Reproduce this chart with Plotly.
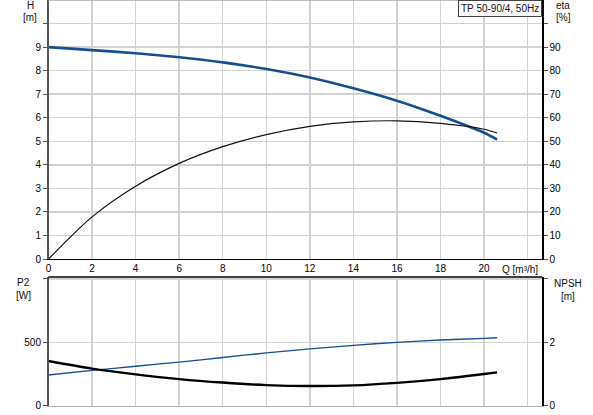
import plotly.graph_objects as go

# ---- data ----
q_h = [0, 2, 4, 6, 8, 10, 12, 14, 16, 18, 19, 20, 20.6]
head = [9.0, 8.87, 8.74, 8.57, 8.35, 8.07, 7.71, 7.25, 6.72, 6.08, 5.73, 5.36, 5.07]

q_eta = [0, 1, 2, 4, 6, 8, 10, 12, 14, 16, 18, 20, 20.6]
eta = [0, 9.3, 17.9, 30.9, 40.6, 47.7, 52.8, 56.3, 58.2, 58.7, 57.6, 55.1, 53.5]

q_low = [0, 2, 4, 6, 8, 10, 12, 14, 16, 18, 20, 20.6]
p2 = [242, 279, 311, 344, 380, 416, 448, 476, 500, 518, 531, 536]
npsh = [1.41, 1.17, 0.99, 0.84, 0.73, 0.65, 0.62, 0.64, 0.72, 0.84, 1.0, 1.05]

x_ticks = list(range(0, 23, 2))
x_ticklabels = [str(v) for v in range(0, 21, 2)] + [""]
h_ticks = list(range(0, 11))
h_ticklabels = [str(v) for v in range(0, 10)] + [""]
eta_ticks = list(range(0, 101, 10))
eta_ticklabels = [str(v) for v in range(0, 91, 10)] + [""]
p2_ticks = [0, 500, 1000]
p2_ticklabels = ["0", "500", ""]
npsh_ticks = [0, 2, 4]
npsh_ticklabels = ["0", "2", ""]

W, H = 593, 415
def px(x):
    return x / W
def py(y):
    return 1 - y / H

BLUE = "#154f8e"
GRID = "#d2d2d2"
FONT = "Liberation Sans, Arial, sans-serif"

fig = go.Figure()
fig.add_trace(go.Scatter(x=q_h, y=head, mode="lines", line=dict(color=BLUE, width=2.6, shape="spline", smoothing=0.8),
                         xaxis="x", yaxis="y", showlegend=False, hoverinfo="skip"))
fig.add_trace(go.Scatter(x=q_eta, y=eta, mode="lines", line=dict(color="#111111", width=1.2, shape="spline", smoothing=0.8),
                         xaxis="x", yaxis="y2", showlegend=False, hoverinfo="skip"))
fig.add_trace(go.Scatter(x=q_low, y=p2, mode="lines", line=dict(color=BLUE, width=1.3, shape="spline", smoothing=0.8),
                         xaxis="x2", yaxis="y3", showlegend=False, hoverinfo="skip"))
fig.add_trace(go.Scatter(x=q_low, y=npsh, mode="lines", line=dict(color="#000000", width=2.4, shape="spline", smoothing=0.8),
                         xaxis="x2", yaxis="y4", showlegend=False, hoverinfo="skip"))

xdom = [px(48.5), px(542)]
top_dom = [py(259), py(0)]
bot_dom = [py(405.7), py(277)]

tickfont = dict(family=FONT, size=10, color="#000000")
common_x = dict(range=[0, 22.66], domain=xdom, tickvals=x_ticks, showgrid=True, gridcolor=GRID, gridwidth=1.4,
                zeroline=False, fixedrange=True, automargin=False)

fig.update_layout(
    width=W, height=H, margin=dict(l=0, r=0, t=0, b=0, autoexpand=False),
    paper_bgcolor="white", plot_bgcolor="white",
    font=dict(family=FONT, size=10, color="#000000"),
    xaxis=dict(**common_x, anchor="y", ticktext=x_ticklabels, showline=True, linecolor="#000000", linewidth=1.3,
               ticks="", tickfont=tickfont),
    xaxis2=dict(**common_x, anchor="y3", showticklabels=False, showline=True, linecolor="#b0b0b0", linewidth=1.5,
                ticks=""),
    yaxis=dict(range=[0, 11], domain=top_dom, anchor="x", tickvals=h_ticks, ticktext=h_ticklabels,
               showgrid=True, gridcolor=GRID, gridwidth=1.4, zeroline=False, showline=True, linecolor="#555555",
               linewidth=1.5, ticks="outside", ticklen=4, tickcolor="#555555", tickfont=tickfont, fixedrange=True,
               automargin=False),
    yaxis2=dict(range=[0, 110], overlaying="y", side="right", anchor="x", tickvals=eta_ticks, ticktext=eta_ticklabels,
                showgrid=False, zeroline=False, showline=True, linecolor="#000000", linewidth=1.5,
                ticks="outside", ticklen=4, tickcolor="#555555", tickfont=tickfont, fixedrange=True,
                automargin=False),
    yaxis3=dict(range=[0, 1015], domain=bot_dom, anchor="x2", tickvals=p2_ticks, ticktext=p2_ticklabels,
                showgrid=True, gridcolor=GRID, gridwidth=1.4, zeroline=False, showline=True, linecolor="#555555",
                linewidth=1.5, ticks="outside", ticklen=4, tickcolor="#555555", tickfont=tickfont, fixedrange=True,
                automargin=False),
    yaxis4=dict(range=[0, 4.06], overlaying="y3", side="right", anchor="x2", tickvals=npsh_ticks,
                ticktext=npsh_ticklabels, showgrid=False, zeroline=False, showline=True, linecolor="#000000",
                linewidth=1.5, ticks="outside", ticklen=4, tickcolor="#555555", tickfont=tickfont, fixedrange=True,
                automargin=False),
)

# frame edges
fig.add_shape(type="line", xref="x domain", yref="y domain", x0=0, x1=1, y0=1, y1=1,
              line=dict(color="#a8a8a8", width=1.5))
fig.add_shape(type="line", xref="x2 domain", yref="y3 domain", x0=0, x1=1, y0=1, y1=1,
              line=dict(color="#000000", width=1.5))

def label(text, x, y, size=10, **kw):
    fig.add_annotation(text=text, x=px(x), y=py(y), xref="paper", yref="paper", showarrow=False,
                       font=dict(family=FONT, size=size, color="#111111"), xanchor="center", yanchor="middle", **kw)

label("H", 30, 5)
label("[m]", 30, 17)
label("eta", 563, 5)
label("[%]", 563, 17)
label("P2", 23, 282)
label("[W]", 23, 295)
label("NPSH", 568, 283)
label("[m]", 568, 296)
label("Q [m³/h]", 520, 269)

fig.add_annotation(text="TP 50-90/4, 50Hz", x=px(542), y=1, xref="paper", yref="paper", showarrow=False,
                   xanchor="right", yanchor="top", bordercolor="#444444", borderwidth=1, borderpad=2,
                   bgcolor="white", font=dict(family=FONT, size=10, color="#111111"))

fig.write_html("out.html", config={"displayModeBar": False, "staticPlot": True},
               post_script="document.body.style.margin='0';document.body.style.overflow='hidden';")
